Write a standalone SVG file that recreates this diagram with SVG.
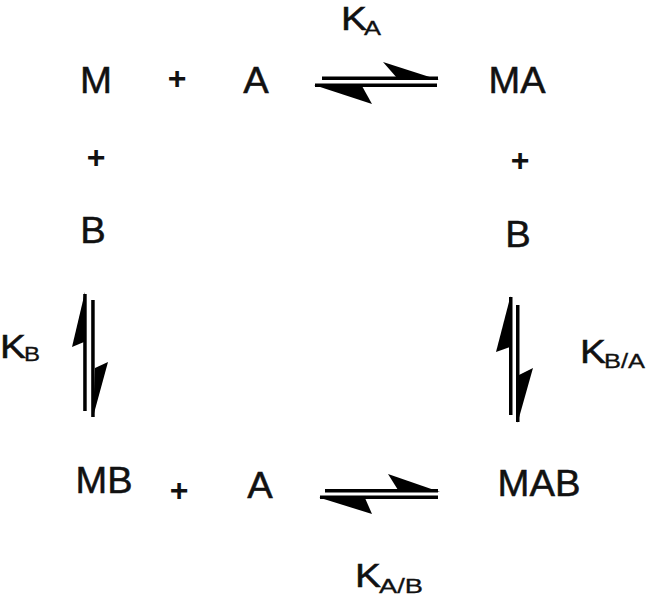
<svg xmlns="http://www.w3.org/2000/svg" width="650" height="598" viewBox="0 0 650 598">
<style>
.t{font-family:"Liberation Sans",Arial,sans-serif;font-size:36px;fill:#111;stroke:#111;stroke-width:0.5;text-anchor:middle}
.p{font-family:"Liberation Sans",Arial,sans-serif;font-size:32px;font-weight:bold;fill:#111;text-anchor:middle}
.k{font-family:"Liberation Sans",Arial,sans-serif;font-size:33px;fill:#111;stroke:#111;stroke-width:0.5}
.s{font-family:"Liberation Sans",Arial,sans-serif;font-size:20px;fill:#111;stroke:#111;stroke-width:0.3}
.a{fill:#000}
</style>
<rect width="650" height="598" fill="#fff"/>
<g id="M"><text class="t" x="96" y="93" textLength="32" lengthAdjust="spacingAndGlyphs">M</text></g>
<g id="plus1"><text class="p" x="177" y="89">+</text></g>
<g id="A1"><text class="t" x="256" y="93" textLength="25.5" lengthAdjust="spacingAndGlyphs">A</text></g>
<g id="MA"><text class="t" x="517" y="93" textLength="57" lengthAdjust="spacingAndGlyphs">MA</text></g>
<g id="plus2"><text class="p" x="96" y="168">+</text></g>
<g id="plus3"><text class="p" x="520" y="171">+</text></g>
<g id="B1"><text class="t" x="93" y="243" textLength="25.5" lengthAdjust="spacingAndGlyphs">B</text></g>
<g id="B2"><text class="t" x="518" y="247" textLength="25.5" lengthAdjust="spacingAndGlyphs">B</text></g>
<g id="MB"><text class="t" x="104" y="493" textLength="57" lengthAdjust="spacingAndGlyphs">MB</text></g>
<g id="plus4"><text class="p" x="179" y="501">+</text></g>
<g id="A2"><text class="t" x="260" y="498" textLength="25.5" lengthAdjust="spacingAndGlyphs">A</text></g>
<g id="MAB"><text class="t" x="539" y="496" textLength="83" lengthAdjust="spacingAndGlyphs">MAB</text></g>
<g id="KA"><text class="k" x="341" y="30" textLength="26" lengthAdjust="spacingAndGlyphs">K</text><text class="s" x="364" y="35" textLength="17" lengthAdjust="spacingAndGlyphs">A</text></g>
<g id="KB"><text class="k" x="0" y="358" textLength="26" lengthAdjust="spacingAndGlyphs">K</text><text class="s" x="24" y="361" textLength="16" lengthAdjust="spacingAndGlyphs">B</text></g>
<g id="KBA"><text class="k" x="580" y="363" textLength="26" lengthAdjust="spacingAndGlyphs">K</text><text class="s" x="604" y="368" textLength="41" lengthAdjust="spacingAndGlyphs">B/A</text></g>
<g id="KAB"><text class="k" x="355" y="587" textLength="26" lengthAdjust="spacingAndGlyphs">K</text><text class="s" x="379" y="593" textLength="44" lengthAdjust="spacingAndGlyphs">A/B</text></g>
<g id="connectors" class="a">
<g id="eqA">
<rect x="322" y="76.5" width="116" height="3.5"/>
<rect x="315" y="83.5" width="122" height="3.5"/>
<polygon points="439,80 383,62 397,78"/>
<polygon points="314,85 362,86 372,104"/>
</g>
<g id="eqAB">
<rect x="325" y="489" width="113" height="3.5"/>
<rect x="320" y="495.5" width="118" height="3.5"/>
<polygon points="440,492 388,474 398,490"/>
<polygon points="319,497.5 365,498 372,514"/>
</g>
<g id="eqB">
<rect x="83.2" y="294" width="3.5" height="117"/>
<rect x="91.2" y="300" width="3.5" height="117"/>
<polygon points="85,292 72,347 84,342"/>
<polygon points="93,417 108,362 95,368"/>
</g>
<g id="eqBA">
<rect x="509" y="297" width="3.5" height="118"/>
<rect x="516" y="305" width="3.5" height="117"/>
<polygon points="510.5,296 496,352 510,347"/>
<polygon points="517.5,423 533,368 519,375"/>
</g>
</g>
</svg>
